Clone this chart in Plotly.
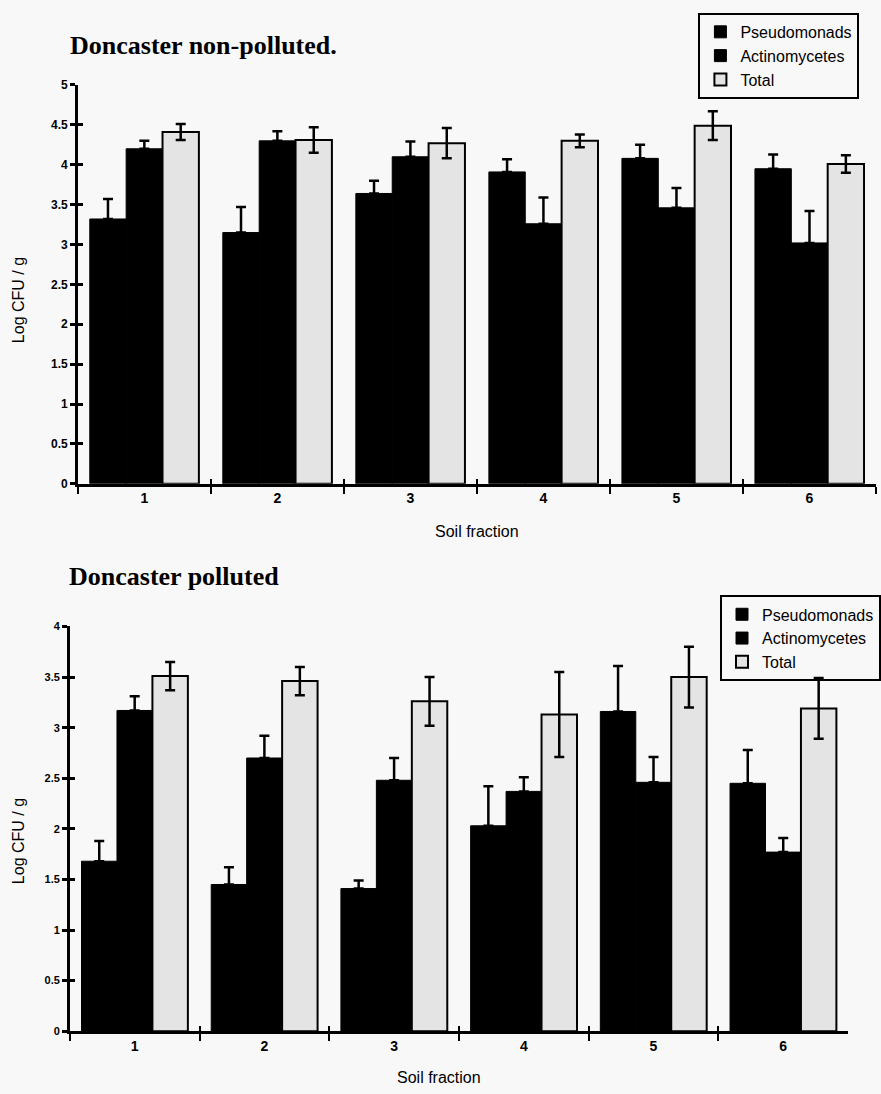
import plotly.graph_objects as go

# ---------------- data ----------------
fractions = ["1", "2", "3", "4", "5", "6"]
series_names = ["Pseudomonads", "Actinomycetes", "Total"]

# Doncaster non-polluted
np_pseudo = [3.32, 3.15, 3.64, 3.91, 4.08, 3.95]
np_pseudo_err = [0.25, 0.32, 0.16, 0.16, 0.17, 0.18]
np_actino = [4.20, 4.30, 4.10, 3.26, 3.46, 3.02]
np_actino_err = [0.10, 0.12, 0.19, 0.33, 0.25, 0.40]
np_total = [4.41, 4.31, 4.27, 4.30, 4.49, 4.01]
np_total_err = [0.10, 0.16, 0.19, 0.08, 0.18, 0.11]

# Doncaster polluted
p_pseudo = [1.68, 1.45, 1.41, 2.03, 3.16, 2.45]
p_pseudo_err = [0.20, 0.17, 0.08, 0.39, 0.45, 0.33]
p_actino = [3.17, 2.70, 2.48, 2.37, 2.46, 1.77]
p_actino_err = [0.14, 0.22, 0.22, 0.14, 0.25, 0.14]
p_total = [3.51, 3.46, 3.26, 3.13, 3.50, 3.19]
p_total_err = [0.14, 0.14, 0.24, 0.42, 0.30, 0.30]

top_yticks = [0, 0.5, 1, 1.5, 2, 2.5, 3, 3.5, 4, 4.5, 5]
bot_yticks = [0, 0.5, 1, 1.5, 2, 2.5, 3, 3.5, 4]

# ---------------- styling ----------------
W, H = 881, 1094
BG = "#f8f8f8"
GREY = "#e4e4e4"
SANS = "Liberation Sans, Arial, sans-serif"
SERIF = "Liberation Serif, Times New Roman, serif"


def px_x(p):
    return p / W


def px_y(p):
    return 1 - p / H


fig = go.Figure()


def add_group(vals, errs, name, color, xa, ya, legend, upper_only):
    err = dict(type="data", array=errs, color="black", thickness=2.5, width=5, visible=True)
    if upper_only:
        err.update(symmetric=False, arrayminus=[0] * len(errs))
    fig.add_trace(go.Bar(
        x=fractions, y=vals, name=name, xaxis=xa, yaxis=ya, legend=legend,
        marker=dict(color=color, line=dict(color="black", width=2 if color != "black" else 1)),
        error_y=err, hoverinfo="skip",
    ))


add_group(np_pseudo, np_pseudo_err, series_names[0], "black", "x", "y", "legend", True)
add_group(np_actino, np_actino_err, series_names[1], "black", "x", "y", "legend", True)
add_group(np_total, np_total_err, series_names[2], GREY, "x", "y", "legend", False)

add_group(p_pseudo, p_pseudo_err, series_names[0], "black", "x2", "y2", "legend2", True)
add_group(p_actino, p_actino_err, series_names[1], "black", "x2", "y2", "legend2", True)
add_group(p_total, p_total_err, series_names[2], GREY, "x2", "y2", "legend2", False)

# invisible helpers for overlay tick axes (inner half of crossing ticks)
idx = list(range(len(fractions)))
fig.add_trace(go.Scatter(x=idx, y=np_total, xaxis="x3", yaxis="y3", mode="markers",
                         marker=dict(opacity=0), showlegend=False, hoverinfo="skip"))
fig.add_trace(go.Scatter(x=idx, y=p_total, xaxis="x4", yaxis="y4", mode="markers",
                         marker=dict(opacity=0), showlegend=False, hoverinfo="skip"))

top_xdom = [px_x(78), px_x(878)]
top_ydom = [px_y(483), px_y(79)]
bot_xdom = [px_x(70), px_x(850)]
bot_ydom = [px_y(1037.5), px_y(627.5)]

tickfont_x = dict(family=SANS, size=14, color="black", weight="bold")
common_x = dict(type="category", tickson="boundaries", ticks="outside", ticklen=7, tickwidth=2,
                tickcolor="black", showline=True, linecolor="black", linewidth=2.5,
                showgrid=False, zeroline=False, tickfont=tickfont_x, fixedrange=True)
common_y = dict(ticks="outside", ticklen=5, tickwidth=2.5, tickcolor="black", showline=True,
                linecolor="black", linewidth=2.5, showgrid=False, zeroline=False,
                fixedrange=True)

fig.update_layout(
    width=W, height=H,
    margin=dict(l=0, r=0, t=0, b=0),
    paper_bgcolor=BG, plot_bgcolor=BG,
    barmode="group", bargap=0.18, bargroupgap=0,
    font=dict(family=SANS, color="black"),
    xaxis=dict(domain=top_xdom, anchor="y", range=[-0.5, 5.5], **common_x),
    yaxis=dict(domain=top_ydom, anchor="x", range=[0, 5], tickvals=top_yticks,
               ticktext=[f"{v:g}" for v in top_yticks],
               tickfont=dict(family=SANS, size=12, color="black", weight="bold"), **common_y),
    xaxis2=dict(domain=bot_xdom, anchor="y2", range=[-0.5, 5.5], **common_x),
    yaxis2=dict(domain=bot_ydom, anchor="x2", range=[0, 4], tickvals=bot_yticks,
                ticktext=[f"{v:g}" for v in bot_yticks],
                tickfont=dict(family=SANS, size=11, color="black", weight="bold"), **common_y),
    # overlay axes for inside half of the ticks
    xaxis3=dict(overlaying="x", anchor="y3", type="linear", range=[-0.5, 5.5],
                tickvals=[i - 0.5 for i in range(len(fractions) + 1)], ticks="inside",
                ticklen=5, tickwidth=2, tickcolor="black", showticklabels=False,
                showline=False, showgrid=False, zeroline=False, fixedrange=True),
    yaxis3=dict(overlaying="y", anchor="x3", range=[0, 5], tickvals=top_yticks, ticks="inside",
                ticklen=5, tickwidth=2.5, tickcolor="black", showticklabels=False,
                showline=False, showgrid=False, zeroline=False, fixedrange=True),
    xaxis4=dict(overlaying="x2", anchor="y4", type="linear", range=[-0.5, 5.5],
                tickvals=[i - 0.5 for i in range(len(fractions) + 1)], ticks="inside",
                ticklen=5, tickwidth=2, tickcolor="black", showticklabels=False,
                showline=False, showgrid=False, zeroline=False, fixedrange=True),
    yaxis4=dict(overlaying="y2", anchor="x4", range=[0, 4], tickvals=bot_yticks, ticks="inside",
                ticklen=5, tickwidth=2.5, tickcolor="black", showticklabels=False,
                showline=False, showgrid=False, zeroline=False, fixedrange=True),
    legend=dict(x=px_x(700), y=px_y(6), xanchor="left", yanchor="top",
                bgcolor="rgba(0,0,0,0)", bordercolor="black", borderwidth=2,
                font=dict(family=SANS, size=16, color="black"), itemwidth=30,
                tracegroupgap=0, traceorder="normal"),
    legend2=dict(x=px_x(722), y=px_y(596), xanchor="left", yanchor="top",
                 bgcolor="rgba(0,0,0,0)", bordercolor="black", borderwidth=2,
                 font=dict(family=SANS, size=16, color="black"), itemwidth=30,
                 tracegroupgap=0, traceorder="normal"),
    showlegend=True,
)

ann = []
ann.append(dict(text="<b>Doncaster non-polluted.</b>", x=px_x(68), y=px_y(39), xref="paper", yref="paper",
                xanchor="left", yanchor="middle", showarrow=False,
                font=dict(family=SERIF, size=26, color="black")))
ann.append(dict(text="<b>Doncaster polluted</b>", x=px_x(67), y=px_y(577), xref="paper", yref="paper",
                xanchor="left", yanchor="middle", showarrow=False,
                font=dict(family=SERIF, size=26, color="black")))
ann.append(dict(text="Soil fraction", x=px_x(478), y=px_y(531), xref="paper", yref="paper",
                xanchor="center", yanchor="middle", showarrow=False,
                font=dict(family=SANS, size=16, color="black")))
ann.append(dict(text="Soil fraction", x=px_x(440), y=px_y(1084), xref="paper", yref="paper",
                xanchor="center", yanchor="middle", showarrow=False,
                font=dict(family=SANS, size=16, color="black")))
ann.append(dict(text="Log CFU / g", x=px_x(18), y=px_y(297), xref="paper", yref="paper",
                xanchor="center", yanchor="middle", showarrow=False, textangle=-90,
                font=dict(family=SANS, size=16, color="black")))
ann.append(dict(text="Log CFU / g", x=px_x(18), y=px_y(845), xref="paper", yref="paper",
                xanchor="center", yanchor="middle", showarrow=False, textangle=-90,
                font=dict(family=SANS, size=16, color="black")))
fig.update_layout(annotations=ann)

fig.write_html("out.html", config={"displayModeBar": False},
               post_script="document.body.style.margin='0';document.body.style.overflow='hidden';")
